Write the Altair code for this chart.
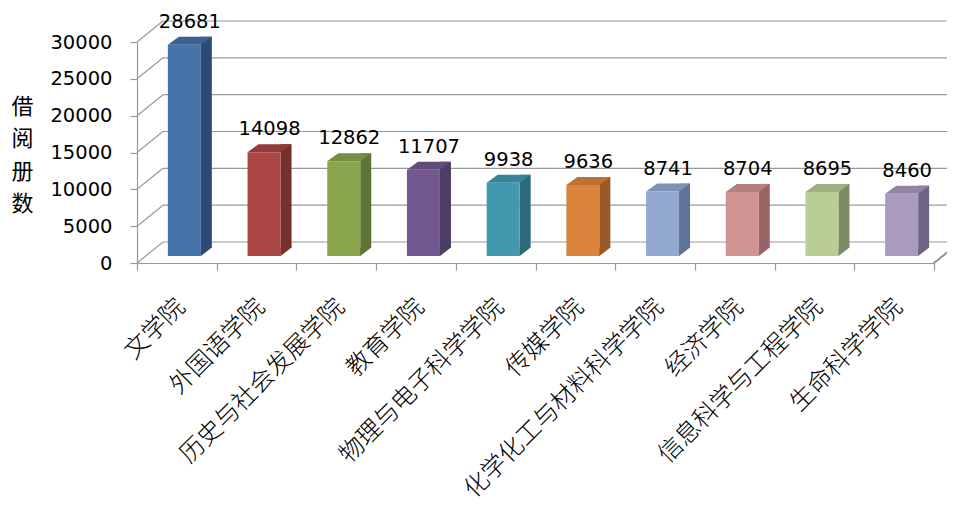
import altair as alt
import pandas as pd

colleges = ["文学院", "外国语学院", "历史与社会发展学院", "教育学院", "物理与电子科学学院",
            "传媒学院", "化学化工与材料科学学院", "经济学院", "信息科学与工程学院", "生命科学学院"]
counts = [28681, 14098, 12862, 11707, 9938, 9636, 8741, 8704, 8695, 8460]
front_colors = ["#4572A7", "#AA4643", "#89A54E", "#71588F", "#4198AF",
                "#DB843D", "#93A9CF", "#D19392", "#B9CD96", "#A99BBD"]
side_colors = ["#2C4B72", "#752F2D", "#5E7336", "#4D3C63", "#2C6A7A",
               "#98592A", "#5F7396", "#946564", "#7C8C62", "#6E6484"]
top_colors = ["#3A6194", "#933B39", "#768E42", "#614B7B", "#378397",
              "#BD7134", "#7E92B6", "#B57F7E", "#A0B181", "#9285A4"]
y_ticks = [0, 5000, 10000, 15000, 20000, 25000, 30000]
y_title = ["借", "阅", "册", "数"]

W, H = 797, 221
BAR_W = 33
PDX, PDY = 7.5, -7      # bar plane offset
DX, DY = 11, -8         # bar depth
WDX, WDY = 26, -21      # back wall offset
GRID = "#999999"

df = pd.DataFrame({"college": colleges, "count": counts, "base": [0] * len(counts),
                   "front": front_colors, "side": side_colors, "top": top_colors})
grid_df = pd.DataFrame({"v": y_ticks})

xs = alt.Scale(paddingInner=0, paddingOuter=0)
ys = alt.Scale(domain=[0, 30000], nice=False)

x_axis = alt.Axis(title=None, labelAngle=315, labelAlign="right", labelBaseline="middle",
                  labelFont="Noto Sans CJK SC", labelFontSize=24.5, labelFontWeight=300,
                  labelColor="#000000",
                  labelPadding=33, labelOffset=4, labelLimit=400, labelOverlap=False,
                  tickBand="extent", tickSize=7, tickColor=GRID, domainColor=GRID,
                  tickWidth=1.2, domainWidth=1.2)
y_axis = alt.Axis(values=y_ticks, format="d", grid=False, title=y_title, titleAngle=0,
                  titleFont="Noto Sans CJK SC", titleFontSize=22, titleFontWeight="normal",
                  titleLineHeight=32.5, titleX=-115, titleY=64, titleAlign="center",
                  titleBaseline="middle", titleColor="#000000",
                  labelFont="DejaVu Sans", labelFontSize=19.5, labelColor="#000000",
                  labelPadding=18, tickSize=7, tickColor=GRID, domainColor=GRID,
                  tickWidth=1.2, domainWidth=1.2)

xn = alt.X("college:N", sort=colleges, scale=xs, axis=x_axis)


def Y(field):
    return alt.Y(field, scale=ys, axis=y_axis)


base = alt.Chart(df)
gbase = alt.Chart(grid_df)

# back wall gridlines
grid = gbase.mark_rule(color=GRID, strokeWidth=1.2, yOffset=WDY).encode(
    y=Y("v:Q"), x=alt.value(WDX), x2=alt.value(W + WDX + 40))
# left wall diagonals
diag = gbase.mark_rule(color=GRID, strokeWidth=1.2, y2Offset=WDY).encode(
    y=Y("v:Q"), y2="v:Q", x=alt.value(0), x2=alt.value(WDX))

side = base.mark_bar(width=DX, xOffset=PDX + BAR_W / 2 + DX / 2,
                     yOffset=PDY + DY, y2Offset=PDY + DY).encode(
    x=xn, y=Y("count:Q"), y2="base:Q", fill=alt.Fill("side:N", scale=None))

u = BAR_W / 2.0
tri_path = "M 0.98 0.02 L 0.98 {a} L {b} {a} Z".format(a=round(DY / u - 0.03, 3), b=round(1 + DX / u, 3))
top_path = "M -1 0 L 1 0 L {b} {a} L {c} {a} Z".format(a=round(DY / u, 3), b=round(1 + DX / u, 3),
                                                         c=round(-1 + DX / u, 3))

tri = base.mark_point(shape=tri_path, size=BAR_W ** 2, filled=True, opacity=1, strokeWidth=0,
                      xOffset=PDX, yOffset=PDY).encode(
    x=xn, y=Y("base:Q"), fill=alt.Fill("side:N", scale=None))

top = base.mark_point(shape=top_path, size=BAR_W ** 2, filled=True, opacity=1, strokeWidth=0,
                      xOffset=PDX, yOffset=PDY).encode(
    x=xn, y=Y("count:Q"), fill=alt.Fill("top:N", scale=None))

front = base.mark_bar(width=BAR_W, xOffset=PDX, yOffset=PDY, y2Offset=PDY).encode(
    x=xn, y=Y("count:Q"), y2="base:Q", fill=alt.Fill("front:N", scale=None))

labels = base.mark_text(font="DejaVu Sans", fontSize=19.5, color="#000000", align="center",
                        baseline="alphabetic", dx=PDX + DX / 2, dy=-24).encode(
    x=xn, y=Y("count:Q"), text=alt.Text("count:Q", format="d"))

# floor right diagonal
floor_r = base.mark_rule(color=GRID, strokeWidth=1.2, y2Offset=WDY).encode(
    y=Y("base:Q"), y2="base:Q", x=alt.value(W), x2=alt.value(W + WDX))

chart = alt.layer(grid, diag, side, tri, top, front, labels, floor_r).properties(
    width=W, height=H,
    autosize=alt.AutoSizeParams(type="none"),
    padding={"left": 129, "top": 34, "right": 13, "bottom": 240},
    background="white",
).configure_view(stroke=None)

chart.save("out.html", embed_options={"renderer": "svg", "actions": False})
